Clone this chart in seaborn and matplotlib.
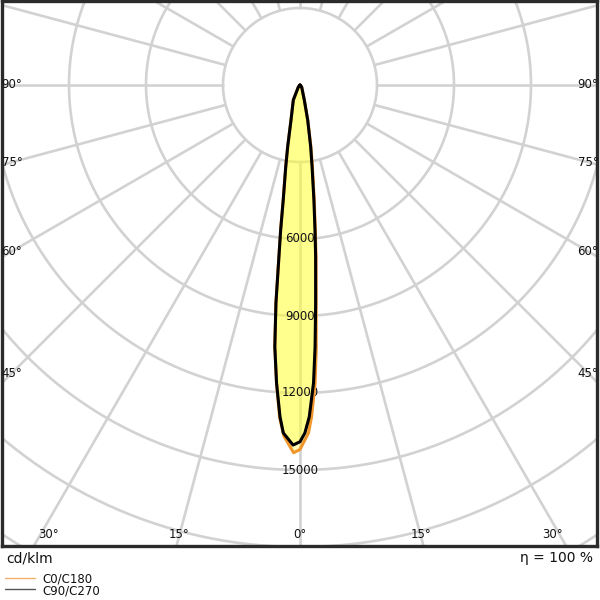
import numpy as np
import pandas as pd
import matplotlib
matplotlib.use("Agg")
import matplotlib.pyplot as plt
import seaborn as sns

# ---- data (gamma angle in degrees: negative = left half, positive = right half) ----
c0_angles = [-90, -40, -24, -14.4, -11.3, -9.9, -8.3, -7.6, -7.0, -6.3, -5.5, -4.5, -3.5, -2.6, -1.0,
             0, 1.4, 2.0, 2.9, 3.5, 4.2, 5.3, 6.0, 7.0, 8.6, 10.0, 12.4, 16, 40, 90]
c0_values = [0, 100, 640, 1410, 2450, 3230, 4530, 5700, 6740, 8540, 10240, 11650, 12990, 13700, 14330,
             14200, 13560, 12930, 11630, 10350, 8600, 6760, 5720, 4540, 3240, 2460, 1400, 610, 100, 0]
c90_angles = [-90, -40, -24, -14.4, -11.3, -9.9, -8.3, -7.6, -7.0, -6.3, -5.5, -4.5, -3.45, -2.75, -1.1,
              0, 0.8, 1.6, 2.6, 3.3, 4.1, 5.2, 5.9, 6.9, 8.4, 9.8, 12.4, 16, 40, 90]
c90_values = [0, 100, 640, 1410, 2450, 3230, 4530, 5700, 6740, 8540, 10240, 11650, 12950, 13570, 14030,
              13900, 13560, 12930, 11620, 10210, 8520, 6720, 5680, 4510, 3220, 2440, 1400, 610, 100, 0]
series_names = ["C0/C180", "C90/C270"]
series_colors = ["#f0962a", "#000000"]
legend_colors = ["#f5b06a", "#555555"]
circle_values = [3000, 6000, 9000, 12000, 15000, 18000, 21000, 24000]
ring_labels = [6000, 9000, 12000, 15000]
side_angle_labels = [90, 75, 60, 45]
bottom_angle_labels = [0, 15, 30]
unit_text = "cd/klm"
eta_text = "η = 100 %"

sns.set_theme(style="white")
plt.rcParams['font.family'] = ['DejaVu Sans']

fig = plt.figure(figsize=(6, 6), dpi=100)
W = H = 600.0
cx, cy = 300.0, 85.0           # pixel position of the pole
k = 3000.0 / 77.0              # cd per pixel
L, R, T, B = 1.5, 597.5, 1.0, 546.0
ax = fig.add_axes([L / W, 1 - B / H, (R - L) / W, (B - T) / H])
ax.set_xlim((L - cx) * k, (R - cx) * k)
ax.set_ylim(-(B - cy) * k, (cy - T) * k)
ax.set_xticks([]); ax.set_yticks([])
for s in ax.spines.values():
    s.set_color("#2b2b2b"); s.set_linewidth(2.4)

grid_col = "#d2d2d2"
th = np.linspace(0, 2 * np.pi, 721)
for cv in circle_values:
    ax.plot(cv * np.cos(th), cv * np.sin(th), color=grid_col, lw=1.9, zorder=1)
for a in range(0, 360, 15):
    r = np.radians(a)
    ax.plot([3000 * np.sin(r), 30000 * np.sin(r)], [-3000 * np.cos(r), -30000 * np.cos(r)],
            color=grid_col, lw=1.9, zorder=1)

def xy(angles, vals):
    a = np.radians(np.asarray(angles, float))
    v = np.asarray(vals, float)
    return v * np.sin(a), -v * np.cos(a)

data = []
for name, ang, val in [(series_names[0], c0_angles, c0_values), (series_names[1], c90_angles, c90_values)]:
    x, y = xy(ang, val)
    ax.fill(x, y, color="#ffff33", alpha=0.33, lw=0, zorder=2)
    data.append(pd.DataFrame({"x": x, "y": y, "order": np.arange(len(x)), "plane": name}))

for name, col, lw, df in zip(series_names, series_colors, [2.2, 2.2], data):
    sns.lineplot(data=df, x="x", y="y", sort=False, estimator=None, color=col, lw=lw,
                 ax=ax, zorder=4, legend=False)
ax.set_xlabel(""); ax.set_ylabel("")

# ring labels
for rv in ring_labels:
    ax.text(0, -rv, f"{rv}", ha="center", va="center", fontsize=8.5, color="#111111", zorder=3)

def px2data(px, py):
    return (px - cx) * k, (cy - py) * k

for a in side_angle_labels:
    dy = 288 / np.tan(np.radians(a)) if a != 90 else 0.0
    for sx in (12, 588):
        x, y = px2data(sx, cy + dy)
        ax.text(x, y, f"{a}°", ha="center", va="center", fontsize=8.5, color="#111111", zorder=3)
for a in bottom_angle_labels:
    dx = min(450 * np.tan(np.radians(a)), 252)
    for sgn in ([1] if a == 0 else [-1, 1]):
        x, y = px2data(cx + sgn * dx, 535)
        ax.text(x, y, f"{a}°", ha="center", va="center", fontsize=8.5, color="#111111", zorder=3)

fig.text(6 / W, 1 - 562 / H, unit_text, fontsize=10, ha="left", va="baseline", color="#111111")
fig.text(593 / W, 1 - 562 / H, eta_text, fontsize=10, ha="right", va="baseline", color="#111111")

for i, (name, col) in enumerate(zip(series_names, legend_colors)):
    ly = 577.5 + i * 11.5
    fig.add_artist(plt.Line2D([5 / W, 35 / W], [1 - ly / H, 1 - ly / H], color=col, lw=1.0))
    fig.text(42 / W, 1 - (ly + 5) / H, name, fontsize=8.5, ha="left", va="baseline", color="#111111")

fig.savefig("out.png", dpi=100)
